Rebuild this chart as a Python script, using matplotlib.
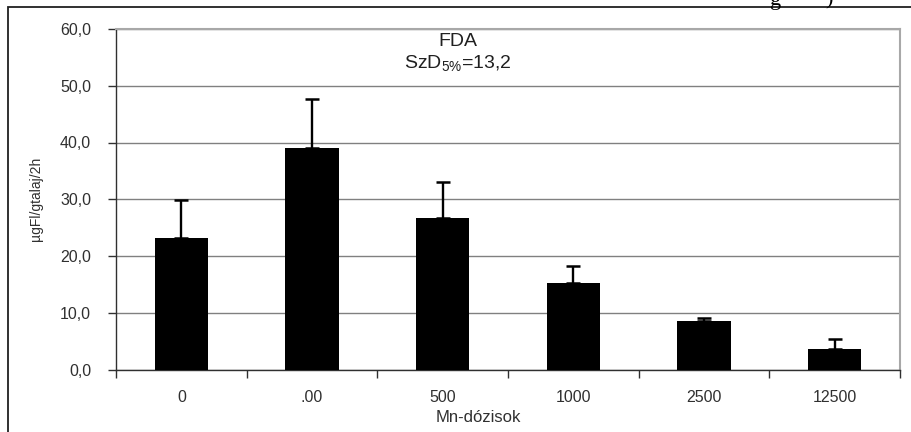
import numpy as np
import matplotlib
matplotlib.use("Agg")
import matplotlib.pyplot as plt
from matplotlib.ticker import FuncFormatter, FixedLocator
from matplotlib.patches import Rectangle

plt.rcParams['font.family'] = ['Liberation Sans', 'DejaVu Sans']
plt.rcParams['mathtext.fontset'] = 'custom'
plt.rcParams['mathtext.rm'] = 'Liberation Sans'
plt.rcParams['mathtext.it'] = 'Liberation Sans'
plt.rcParams['mathtext.default'] = 'rm'

doses = ['0', '.00', '500', '1000', '2500', '12500']
means = [23.2, 39.1, 26.7, 15.2, 8.5, 3.6]
errors = [6.7, 8.6, 6.3, 3.1, 0.6, 1.7]
yticks = [0, 10, 20, 30, 40, 50, 60]


fig = plt.figure(figsize=(9.11, 4.32), dpi=100)
ax = fig.add_axes([116 / 911, 1 - 369.5 / 432, (900 - 116) / 911, (369.5 - 29) / 432])

x = np.arange(len(doses))
lower = np.zeros(len(errors))
ax.bar(x, means, width=0.41, color='black', zorder=3)
ax.errorbar(x, means, yerr=[lower, errors], fmt='none', ecolor='black',
            elinewidth=1.7, capsize=5, capthick=1.8, zorder=4)

ax.set_xlim(-0.5, len(doses) - 0.5)
ax.set_ylim(0, 60)
ax.set_yticks(yticks)
ax.yaxis.set_major_formatter(FuncFormatter(lambda v, p: f"{v:.1f}".replace('.', ',')))
ax.yaxis.grid(True, color='#808080', linewidth=1.0, zorder=0)

ax.set_xticks(x)
ax.set_xticklabels(doses)
ax.xaxis.set_minor_locator(FixedLocator(np.arange(-0.5, len(doses), 1.0)))
ax.tick_params(axis='x', which='major', length=0, pad=15, labelsize=11.5, labelcolor='#303030')
ax.tick_params(axis='x', which='minor', length=6, width=1, color='#303030', direction='out')
ax.tick_params(axis='y', length=6, width=1, color='#303030', pad=12, labelsize=11.5, labelcolor='#303030')

for s in ['left', 'bottom']:
    ax.spines[s].set_color('#303030')
    ax.spines[s].set_linewidth(1.0)
for s in ['top', 'right']:
    ax.spines[s].set_color('#a8a8a8')
    ax.spines[s].set_linewidth(1.5)

ax.set_ylabel('µgFl/gtalaj/2h', fontsize=10, color='#303030', labelpad=12)
ax.set_xlabel('Mn-dózisok', fontsize=12, color='#303030', labelpad=2)
ax.xaxis.set_label_coords(0.462, -0.12)

ax.text(0.436, 0.963, 'FDA', transform=ax.transAxes, ha='center', va='center',
        fontsize=14, color='#202020')
ax.text(0.436, 0.9, r'SzD$_{5\%}$=13,2', transform=ax.transAxes, ha='center', va='center',
        fontsize=14, color='#202020')

# outer frame of the embedded chart
fig.patches.append(Rectangle((8 / 911, -0.05), 1.0, 1 - 7 / 432 + 0.05, transform=fig.transFigure,
                             fill=False, edgecolor='#202020', linewidth=1.3))

# cropped text from above the frame
fig.text(776 / 911, 1.0, 'g', family='Liberation Serif', fontsize=16, ha='center', va='center')
fig.text(829 / 911, 1.0, ')', family='Liberation Serif', fontsize=16, ha='center', va='center')

fig.savefig('out.png', dpi=100)
